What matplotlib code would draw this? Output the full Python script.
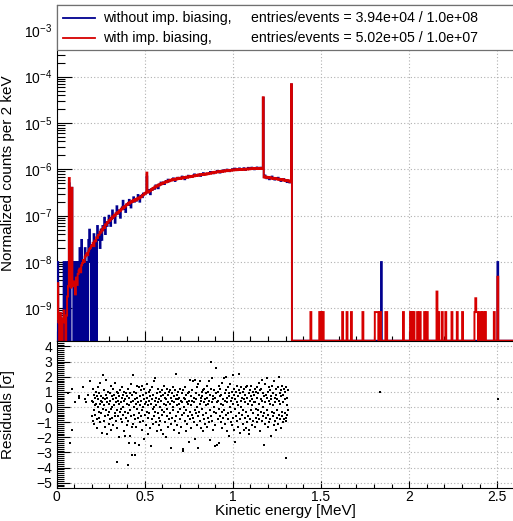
import numpy as np
import matplotlib.pyplot as plt
from matplotlib.lines import Line2D
from matplotlib.patches import Rectangle
from matplotlib.ticker import LogLocator, MultipleLocator, NullFormatter, FuncFormatter, AutoMinorLocator

plt.rcParams["font.family"] = ["Liberation Sans", "DejaVu Sans"]

# spectrum, 5 keV bins from 0 to 1.34 MeV, values in units of 1e-9
red_vals = [
    0.6, 3.5, 0.5, 0, 0.8, 0.5, 0, 0.6, 0.9, 0.5,
    0, 0.7, 1.8, 3.0, 650, 3.2, 2.8, 400, 3.4, 3.0,
    3.8, 2.0, 4.6, 3.2, 5.5, 6.5, 7.2, 6.0, 8.5, 9.5,
    11, 10, 13, 14, 15.5, 14, 17, 19, 20, 22,
    23, 26, 22, 29, 28, 34, 33, 38, 39, 45,
    43, 51, 48, 58, 54, 65, 62, 73, 70, 80,
    77, 88, 84, 96, 91, 104, 99, 113, 108, 121,
    116, 130, 125, 141, 136, 153, 146, 163, 158, 176,
    170, 189, 180, 199, 191, 209, 200, 219, 208, 227,
    214, 236, 226, 248, 237, 260, 254, 281, 276, 303,
    292, 315, 850, 327, 316, 347, 336, 372, 360, 397,
    388, 424, 408, 445, 427, 467, 450, 487, 470, 506,
    487, 525, 508, 543, 523, 560, 542, 580, 558, 596,
    575, 610, 586, 622, 596, 632, 606, 645, 620, 655,
    625, 662, 634, 672, 644, 682, 654, 692, 664, 702,
    674, 712, 684, 722, 694, 736, 709, 750, 724, 762,
    733, 772, 743, 782, 753, 792, 760, 800, 768, 808,
    778, 818, 790, 833, 804, 848, 822, 866, 838, 882,
    852, 893, 862, 903, 872, 914, 884, 926, 894, 936,
    902, 943, 912, 953, 922, 963, 932, 973, 942, 983,
    952, 990, 957, 996, 963, 1002, 970, 1010, 977, 1016,
    982, 1020, 987, 1026, 992, 1030, 997, 1036, 1002, 1043,
    1012, 1050, 1017, 1056, 1022, 1060, 1027, 1066, 1032, 1068,
    1030, 1062, 1022, 1040, 36000, 668, 706, 664, 690, 660,
    678, 646, 674, 636, 660, 626, 654, 621, 644, 612,
    634, 602, 624, 592, 614, 584, 610, 576, 600, 566,
    590, 556, 580, 546, 570, 530, 69000, 0,
]
blue_vals = [
    0, 10, 0, 0, 0, 0, 0, 0, 10, 0,
    0, 10, 0, 10, 500, 0, 10, 400, 10, 0,
    10, 0, 10, 0, 10, 0, 20, 0, 30, 0,
    10, 0, 20, 0, 10, 0, 30, 50, 10, 0,
    20, 0, 40, 0, 30, 0, 60, 30, 40, 20,
    50, 30, 60, 50, 90, 40, 70, 60, 70, 100,
    80, 60, 90, 130, 90, 100, 70, 110, 160, 110,
    120, 130, 90, 140, 150, 210, 140, 150, 120, 170,
    180, 170, 220, 190, 150, 200, 210, 250, 200, 220,
    210, 230, 280, 240, 200, 260, 270, 250, 300, 290,
    290, 310, 700, 320, 360, 330, 290, 370, 360, 390,
    400, 380, 450, 410, 440, 390, 470, 460, 520, 490,
    500, 520, 480, 540, 560, 530, 600, 550, 560, 590,
    590, 600, 640, 600, 560, 620, 630, 660, 620, 640,
    640, 650, 700, 650, 660, 610, 660, 690, 670, 730,
    690, 700, 720, 680, 720, 730, 780, 730, 740, 750,
    740, 770, 760, 720, 780, 770, 830, 780, 790, 800,
    800, 810, 790, 830, 880, 830, 840, 860, 820, 870,
    870, 880, 930, 890, 880, 850, 900, 920, 900, 960,
    910, 930, 940, 990, 940, 950, 910, 960, 970, 1010,
    970, 980, 1040, 990, 990, 960, 1000, 1050, 1000, 1010,
    1000, 1010, 1060, 1010, 970, 1020, 1030, 1080, 1010, 1030,
    1040, 1090, 1030, 1050, 1000, 1060, 1050, 1100, 1040, 1060,
    1050, 1090, 1030, 1030, 35000, 680, 740, 690, 640, 680,
    670, 610, 660, 650, 700, 640, 640, 600, 640, 620,
    620, 660, 610, 600, 560, 600, 590, 620, 580, 570,
    580, 530, 570, 560, 520, 540, 68000, 0,
]

# isolated entries above the Co-60 edge (energy in MeV, value in 1e-9)
red_tail_e = [1.442, 1.494, 1.503, 1.511, 1.624, 1.649, 1.670, 1.738,
              1.806, 1.812, 1.818, 1.824, 1.830, 1.836, 1.866, 1.872, 1.968,
              2.008, 2.017, 2.027, 2.047, 2.061, 2.085, 2.104, 2.157, 2.166,
              2.185, 2.206, 2.244, 2.270, 2.304, 2.370, 2.376, 2.382, 2.388,
              2.400, 2.406, 2.418, 2.424, 2.430, 2.482, 2.505]
red_tail_v = [0.83, 0.83, 0.83, 0.83, 0.83, 0.83, 0.83, 0.83,
              0.83, 0.83, 0.83, 0.83, 0.83, 0.83, 0.83, 0.83, 0.83,
              0.83, 0.83, 0.83, 0.83, 0.83, 0.83, 0.83, 2.3, 0.83,
              0.83, 0.83, 0.83, 0.83, 0.83, 0.83, 1.65, 0.83, 0.83,
              0.83, 0.83, 0.83, 0.83, 0.83, 0.83, 4.8]
blue_tail_e = [1.840, 2.505]
blue_tail_v = [10, 10]

# residuals, one per 2 keV bin starting at 0.2 MeV
res_dense = [
    0.4, -0.6, 1.2, -0.9, 0.3, 0.8, -0.2, -1.1, 0.6, 0.1, -0.5, 1.0, 0.2, -0.8, 0.7, -1.4, 0.5, 0.0, 1.3, -0.3,
    0.9, -0.7, 0.2, 1.6, -1.0, 0.4, -0.4, 0.7, -1.7, 0.3, 2.1, -0.1, 0.6, -0.9, 0.1, 1.1, -1.3, 0.5, -0.6, 0.8,
    -0.2, 1.8, -1.8, 0.3, 0.6, -0.5, 1.0, -1.1, 0.2, -0.3, 0.9, -0.8, 0.4, 1.4, -0.1, -1.5, 0.7, 0.0, -0.7, 1.2,
    0.5, -1.2, 0.1, 0.8, -0.4, 1.6, -0.6, 0.3, -0.9, 0.6, -0.2, 1.0, -1.4, 0.4, 0.9, -0.6, 0.2, -2.0, 0.7, -0.3,
    1.1, -0.8, 0.3, -0.1, 0.6, -1.0, 1.3, 0.0, -0.5, 0.8, -1.6, 0.4, 1.0, -0.3, -1.9, 0.5, -0.7, 0.9, 0.2, -1.2,
    0.7, -0.4, 1.2, -0.9, -2.4, 0.1, 0.6, -1.9, 0.9, -0.2, 1.5, -0.6, 0.3, -1.3, 0.8, -1.1, 0.4, 2.1, -0.5, 0.0,
    1.0, -0.8, -2.4, 0.5, 0.2, -1.3, 0.9, -0.1, 0.6, 1.4, -0.7, 0.3, -2.5, 1.3, -0.4, 0.7, -1.0, 0.1, 1.1, -0.6,
    0.4, -0.2, 1.4, -1.5, 0.8, 0.0, -0.9, 0.5, -2.1, 1.2, 0.2, -0.5, 0.9, -1.2, 0.3, 1.5, -0.3, 0.6, -1.8, 0.1,
    -0.7, 1.0, 0.4, -0.4, 0.7, -1.4, 1.1, -2.6, 0.2, -0.8, 0.5, 1.3, -0.1, -1.1, 0.8, 0.0, -0.6, 1.7, -0.3, 0.4,
    1.9, -1.0, 0.1, 0.6, -1.6, 0.9, -0.4, 0.3, 1.2, -0.7, -1.2, 0.5, 0.0, 1.0, -0.9, 0.4, -1.5, 0.7, -0.2, 1.1,
    -0.5, 0.8, -1.8, 0.2, 1.4, -0.3, 0.6, -1.0, 0.9, 0.1, -2.0, 0.5, -0.6, 1.2, -0.1, 0.3, -1.3, 0.8, -0.8, 1.0,
    0.2, -0.4, 1.1, -1.1, 0.6, -2.7, 0.4, 0.9, -0.7, 0.0, 1.3, -0.2, 0.7, -1.5, 0.3, 1.1, -0.9, 0.5, 2.2, -0.6,
    0.8, -1.2, 0.1, 0.5, -0.3, 1.0, -1.7, 0.6, 0.2, -0.8, 1.2, -0.1, 0.4, -1.3, 0.9, -0.5, 0.3, 1.1, -2.8, -2.9,
    0.6, -0.4, 0.0, 1.3, -0.9, 0.5, -1.6, 0.8, -0.2, 0.3, -1.1, 0.9, 0.2, -0.6, 1.0, -2.3, 0.4, -0.3, 1.8, -0.8,
    0.1, 0.7, -1.4, 1.1, -0.5, 0.4, 1.7, -0.7, 0.6, -1.0, 0.3, 1.8, -0.2, -2.1, 0.9, -0.4, 0.5, -1.2, 1.3, 0.0,
    -0.6, 1.5, -2.7, 0.8, -0.3, 0.2, 1.7, -0.9, 0.6, -1.4, 0.4, 1.0, -0.1, 0.7, -1.6, 1.1, -0.5, 0.3, 1.2, -0.8,
    0.5, -1.1, 0.9, 0.1, -0.4, 1.4, -1.3, 0.6, 1.0, -0.7, 0.2, 1.7, -1.0, 0.4, -0.2, 0.8, -2.2, 1.2, -0.6, 0.3,
    1.9, -0.9, 0.5, -1.5, 0.7, 0.0, -0.3, 1.1, -2.6, 0.6, -1.2, 0.9, 2.6, -0.4, 0.3, -2.5, 1.0, -0.8, 0.4, 1.4,
    -0.1, -2.4, 0.7, -0.6, 1.2, 0.2, -1.0, 0.8, -0.3, 1.6, -1.4, 0.5, 0.1, -0.7, 1.9, -0.2, 0.9, -1.1, 0.4, 2.0,
    -0.5, 1.1, -1.6, 0.6, 0.3, -0.8, 1.3, -0.4, 0.7, -1.9, 0.9, 0.0, 1.5, -1.0, 0.4, -0.3, 1.0, -1.2, 0.6, 2.1,
    -0.7, 0.2, 1.2, -1.5, 0.8, -0.1, -2.3, 0.5, 1.0, -0.6, 0.3, 1.4, -0.9, 0.7, -1.3, 0.1, 1.1, -0.4, 2.2, -0.8,
    0.9, -1.7, 0.4, 0.0, 1.3, -0.5, 0.6, -1.1, 1.0, -0.2, 0.5, -1.5, 1.2, 0.3, -0.7, 0.8, -1.4, 1.3, -0.3, 0.6,
    -1.0, 1.4, 0.2, -0.6, 0.9, -1.8, -1.5, 0.4, 1.1, -0.8, 0.7, -0.2, 1.4, -1.2, 0.5, 0.1, -0.9, 1.0, -0.4, 0.3,
    0.8, -1.3, 1.2, 0.3, -0.7, 1.0, -0.1, 0.6, -1.0, 1.3, -0.5, 0.9, -0.2, 1.6, -0.8, 0.2, 1.1, -1.6, 0.5, -0.3,
    1.2, -0.9, 0.4, 1.8, -0.6, 0.0, 0.9, -2.5, 0.7, -0.4, 1.5, -1.1, 0.3, 0.8, -0.7, 1.9, -0.2, 0.6, -1.3, 1.0,
    -0.5, 0.4, 1.3, -1.0, 0.2, -0.8, 1.1, 0.5, -1.9, 0.7, -0.3, 1.4, -0.6, 0.9, 0.1, -1.2, 1.7, -0.4, 0.6, -0.9,
    0.3, 1.2, -1.5, 0.8, -0.2, 0.5, -0.7, 1.3, -1.1, 0.4, 2.0, -0.5, 0.9, -0.8, 0.2, 1.1, -1.4, 0.7, -0.3, 1.4,
    -0.6, 0.8, -1.0, 0.3, 1.2, -0.8, 0.5, -0.4, 1.0, -0.7, 1.3, -0.9, 0.6, 0.1, -0.5, 1.1, -0.2,
]
res_extra_x = [0.005, 0.067, 0.077, 0.086, 0.09, 0.105, 0.125, 0.13, 0.15, 0.16, 0.17,
               0.18, 0.19, 0.345, 0.404, 0.426, 0.445, 0.874, 1.30, 1.835, 2.505]
res_extra_y = [0.55, 0.93, -2.4, -1.55, 1.2, 0.35, 0.75, 0.6, 1.3, 0.5, 0.3,
               0.8, 1.75, -3.65, -3.85, -3.2, -3.2, 2.95, -3.4, 1.0, 0.55]

# assemble histograms
edges = np.round(np.arange(0, 2.6 + 1e-9, 0.005), 4)
red = np.zeros(len(edges) - 1)
blue = np.zeros(len(edges) - 1)
red[:len(red_vals)] = red_vals
blue[:len(blue_vals)] = blue_vals
for e, v in zip(red_tail_e, red_tail_v):
    red[int(e / 0.005)] = v
for e, v in zip(blue_tail_e, blue_tail_v):
    blue[int(e / 0.005)] = v
red = red * 1e-9
blue = blue * 1e-9

ymin, ymax = 2.0e-10, 3.53e-3
red = np.where(red > 0, red, ymin)
blue = np.where(blue > 0, blue, ymin)

res_x = 0.201 + 0.002 * np.arange(len(res_dense))
res_y = np.array(res_dense)

W, H = 513, 521
fig = plt.figure(figsize=(W / 100, H / 100), dpi=100)


def px(x0, y0, x1, y1):
    return [x0 / W, 1 - y1 / H, (x1 - x0) / W, (y1 - y0) / H]


grid_kw = dict(color="#b0b0b0", linestyle=(0, (1, 2)), linewidth=0.8)
blue_c = "#00008f"
red_c = "#d60000"

ax = fig.add_axes(px(56.5, 5, 515, 340.7))
ax.stairs(blue, edges, color=blue_c, lw=1.3, baseline=None, zorder=3)
ax.stairs(red, edges, color=red_c, lw=1.4, baseline=None, zorder=4)
ax.set_yscale("log")
ax.set_xlim(0, 2.6)
ax.set_ylim(ymin, ymax)
ax.yaxis.set_major_locator(LogLocator(base=10, numticks=20))
ax.yaxis.set_minor_locator(LogLocator(base=10, subs=np.arange(2, 10), numticks=20))
ax.yaxis.set_minor_formatter(NullFormatter())
ax.xaxis.set_major_locator(MultipleLocator(0.5))
ax.xaxis.set_minor_locator(MultipleLocator(0.1))
ax.xaxis.set_major_formatter(NullFormatter())
ax.tick_params(axis="y", which="major", direction="in", length=11, width=0.8, labelsize=10, pad=3)
ax.tick_params(axis="y", which="minor", direction="in", length=6, width=0.8)
ax.tick_params(axis="x", which="major", direction="in", length=7, width=0.8)
ax.tick_params(axis="x", which="minor", direction="in", length=3.5, width=0.8)
ax.grid(True, which="major", **grid_kw)
ax.set_axisbelow(True)
ax.set_ylabel("Normalized counts per 2 keV", fontsize=11)
ax.yaxis.set_label_coords(-0.09, 0.5)

rax = fig.add_axes(px(56.5, 340.7, 515, 487.7))
rax.plot(res_x, res_y, "s", color="black", ms=1.7, mew=0)
rax.plot(res_extra_x, res_extra_y, "s", color="black", ms=1.7, mew=0)
rax.set_xlim(0, 2.6)
rax.set_ylim(-5.33, 4.38)
rax.yaxis.set_major_locator(MultipleLocator(1))
rax.yaxis.set_minor_locator(AutoMinorLocator(8))
rax.xaxis.set_major_locator(MultipleLocator(0.5))
rax.xaxis.set_minor_locator(MultipleLocator(0.1))
rax.xaxis.set_major_formatter(FuncFormatter(lambda v, p: "%g" % v))
rax.tick_params(axis="y", which="major", direction="in", length=9, width=0.8, labelsize=10, pad=3)
rax.tick_params(axis="y", which="minor", direction="in", length=5, width=0.8)
rax.tick_params(axis="x", which="major", direction="in", length=5, width=0.8, labelsize=10, pad=2)
rax.tick_params(axis="x", which="minor", direction="in", length=3, width=0.8)
rax.grid(True, which="major", **grid_kw)
rax.set_axisbelow(True)
rax.set_ylabel("Residuals [\u03c3]", fontsize=11)
rax.yaxis.set_label_coords(-0.09, 0.5)
rax.set_xlabel("Kinetic energy [MeV]", fontsize=11, va="center")
rax.xaxis.set_label_coords(0.5, (487.7 - 511) / 147)

# legend box
fig.add_artist(Rectangle((56.5 / W, 1 - 50 / H), (520 - 56.5) / W, 45 / H,
                         facecolor="white", edgecolor="#707070", lw=0.9, zorder=5))
rows = [(18, blue_c, "without imp. biasing,", "entries/events = 3.94e+04 / 1.0e+08"),
        (38, red_c, "with imp. biasing,", "entries/events = 5.02e+05 / 1.0e+07")]
for y, c, lab, ent in rows:
    fig.add_artist(Line2D([63 / W, 95 / W], [1 - y / H, 1 - y / H], color=c, lw=1.3, zorder=6))
    fig.text(103 / W, 1 - y / H, lab, fontsize=10.2, va="center", ha="left", zorder=6)
    fig.text(251 / W, 1 - y / H, ent, fontsize=10.2, va="center", ha="left", zorder=6)

fig.savefig("out.png", dpi=100)
